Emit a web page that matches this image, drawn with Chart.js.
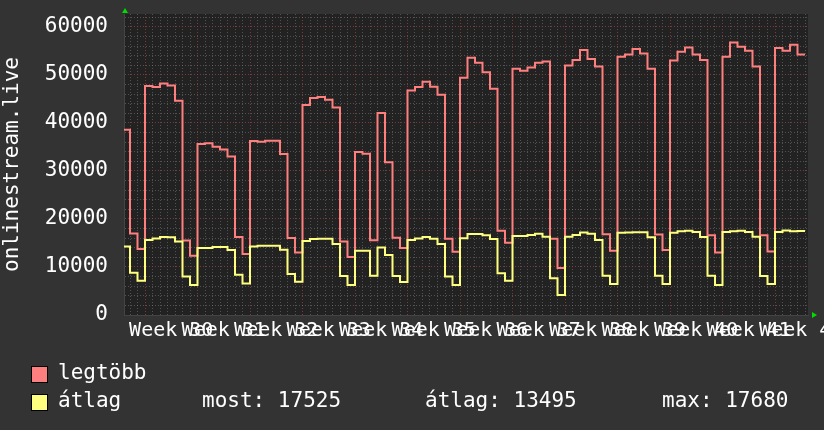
<!DOCTYPE html>
<html>
<head>
<meta charset="utf-8">
<script src="https://cdn.jsdelivr.net/npm/chart.js@4/dist/chart.umd.min.js"></script>
<style>
  body { margin: 0; background: #333333; }
  #wrap { position: relative; width: 824px; height: 430px; background: #333333; overflow: hidden; }
  #legend { position: absolute; left: 0; top: 0; width: 824px; height: 430px; pointer-events: none;
            font-family: "DejaVu Sans Mono", monospace; font-size: 21px; color: #ffffff; }
  #legend span { position: absolute; white-space: pre; line-height: 25px; }
  #legend .box { width: 15px; height: 15px; border: 1px solid #000; }
</style>
</head>
<body>
<div id="wrap">
  <canvas id="chart" width="824" height="430"></canvas>
  <div id="legend"></div>
</div>
<script>
// week labels on the x axis (each week = 7 days, day 0 = start of week 30)
const weekNumbers = [30, 31, 32, 33, 34, 35, 36, 37, 38, 39, 40, 41, 42];
const firstDay = -3;

// daily values, starting at firstDay
const maxValues = [
  38600, 17000, 13750,
  47700, 47500, 48200, 47800, 44650, 15500, 12350,
  35600, 35800, 35050, 34450, 33000, 16250, 12700,
  36250, 36100, 36300, 36300, 33550, 16050, 13000,
  43750, 45200, 45400, 44850, 43200, 15300, 12100,
  33950, 33600, 15550, 42100, 31800, 16100, 13950,
  46750, 47500, 48600, 47550, 45900, 15900, 13200,
  49400, 53600, 52550, 50550, 47150, 17550, 15050,
  51300, 50900, 51550, 52550, 52800, 15900, 9800,
  51950, 53100, 55200, 53350, 51750, 16800, 13400,
  53800, 54250, 55400, 54450, 51300, 16750, 13550,
  53000, 54850, 55700, 54250, 53100, 16600, 13000,
  53800, 56750, 55900, 55050, 51750, 16600, 13250,
  55600, 55050, 56300, 54250
];
const avgValues = [
  14250, 8800, 7150,
  15600, 15950, 16250, 16200, 15300, 8000, 6250,
  13950, 13950, 14150, 14150, 13550, 8400, 6550,
  14250, 14400, 14400, 14400, 13600, 8550, 6950,
  15400, 15850, 15900, 15900, 14800, 8100, 6250,
  13400, 13400, 8200, 14050, 12500, 8100, 6900,
  15600, 15950, 16250, 15900, 14800, 8000, 6250,
  16000, 16850, 16850, 16600, 15850, 8700, 7150,
  16450, 16450, 16650, 16950, 16300, 7650, 4150,
  16300, 16650, 17200, 16950, 15600, 8200, 6450,
  17150, 17200, 17250, 17250, 16200, 8200, 6450,
  17150, 17450, 17550, 17300, 16250, 8200, 6250,
  17300, 17450, 17550, 17300, 16300, 8100, 6450,
  17300, 17600, 17450, 17500
];

const seriesNames = ['legtöbb', 'átlag'];
const seriesColors = ['#ff7f7f', '#ffff7f'];
const statLabels = ['most', 'átlag', 'max'];
const statValues = [17525, 13495, 17680];

const yTitle = 'onlinestream.live';

// step data: each value holds for one day, last one closed at the end of its day
function toSteps(values) {
  const pts = values.map((v, i) => ({ x: firstDay + i, y: v }));
  pts.push({ x: firstDay + values.length, y: values[values.length - 1] });
  return pts;
}

const minorGrid = 'rgba(130,130,130,0.5)';
const majorGrid = 'rgba(150,70,70,0.75)';

const bgPlugin = {
  id: 'plotbg',
  beforeDraw(chart) {
    const { ctx, chartArea: a } = chart;
    ctx.save();
    ctx.fillStyle = '#222222';
    ctx.fillRect(a.left, a.top, a.right - a.left, a.bottom - a.top);
    ctx.restore();
  },
  afterDraw(chart) {
    const { ctx, chartArea: a } = chart;
    ctx.save();
    ctx.fillStyle = '#00dd00';
    ctx.beginPath();
    ctx.moveTo(a.left + 1, a.top - 6);
    ctx.lineTo(a.left - 2, a.top - 1);
    ctx.lineTo(a.left + 4, a.top - 1);
    ctx.closePath();
    ctx.fill();
    ctx.beginPath();
    ctx.moveTo(a.right + 9, a.bottom);
    ctx.lineTo(a.right + 4, a.bottom - 3);
    ctx.lineTo(a.right + 4, a.bottom + 3);
    ctx.closePath();
    ctx.fill();
    ctx.restore();
  }
};

Chart.defaults.font.family = '"DejaVu Sans Mono", monospace';
Chart.defaults.color = '#ffffff';

new Chart(document.getElementById('chart'), {
  type: 'line',
  data: {
    datasets: [{
      label: seriesNames[0],
      data: toSteps(maxValues),
      borderColor: seriesColors[0],
      backgroundColor: seriesColors[0],
      borderWidth: 2,
      pointRadius: 0,
      stepped: 'before',
      order: 1
    }, {
      label: seriesNames[1],
      data: toSteps(avgValues),
      borderColor: seriesColors[1],
      backgroundColor: seriesColors[1],
      borderWidth: 2,
      pointRadius: 0,
      stepped: 'before',
      order: 0
    }]
  },
  options: {
    responsive: false,
    animation: false,
    devicePixelRatio: 1,
    layout: { padding: { top: 14, right: 16, bottom: 0, left: 0 } },
    plugins: {
      legend: { display: false },
      tooltip: { enabled: false }
    },
    scales: {
      x: {
        type: 'linear',
        min: -2.8,
        max: 88.4,
        afterBuildTicks(scale) {
          const ticks = [];
          for (let d = Math.ceil(scale.min); d <= Math.floor(scale.max); d++) ticks.push({ value: d });
          weekNumbers.forEach((w, i) => ticks.push({ value: i * 7 + 3.5 }));
          ticks.sort((a, b) => a.value - b.value);
          scale.ticks = ticks;
        },
        afterFit(scale) {
          scale.height = 115;
          scale.paddingLeft = 0;
          scale.paddingRight = 0;
        },
        ticks: {
          autoSkip: false,
          maxRotation: 0,
          minRotation: 0,
          padding: 4,
          font: { size: 20 },
          callback(v) {
            const i = (v - 3.5) / 7;
            return Number.isInteger(i) && weekNumbers[i] !== undefined ? 'Week ' + weekNumbers[i] : '';
          }
        },
        grid: {
          drawTicks: false,
          lineWidth: 1,
          color(ctx) {
            if (!ctx.tick) return 'transparent';
            const v = ctx.tick.value;
            if (!Number.isInteger(v)) return 'transparent';
            return v % 7 === 0 ? majorGrid : minorGrid;
          }
        },
        border: { display: true, color: '#444444', width: 1, dash: [1, 2] }
      },
      y: {
        min: 0,
        max: 62700,
        afterBuildTicks(scale) {
          const ticks = [];
          for (let v = 0; v <= scale.max; v += 2000) ticks.push({ value: v });
          scale.ticks = ticks;
        },
        afterFit(scale) {
          scale.width = 124;
          scale.paddingTop = 0;
          scale.paddingBottom = 0;
        },
        ticks: {
          autoSkip: false,
          padding: 16,
          font: { size: 21 },
          callback(v) { return v % 10000 === 0 ? String(v) : ''; }
        },
        grid: {
          drawTicks: false,
          lineWidth: 1,
          color(ctx) {
            if (!ctx.tick) return 'transparent';
            return ctx.tick.value % 10000 === 0 ? majorGrid : minorGrid;
          }
        },
        border: { display: true, color: '#444444', width: 1, dash: [1, 2] },
        title: {
          display: true,
          text: yTitle,
          color: '#ffffff',
          font: { size: 21 },
          padding: 0
        }
      }
    }
  },
  plugins: [bgPlugin]
});

// legend rows below the plot
const legend = document.getElementById('legend');
const rowTops = [360, 388];
seriesNames.forEach((name, i) => {
  const box = document.createElement('span');
  box.className = 'box';
  box.style.left = '31px';
  box.style.top = (rowTops[i] + 6) + 'px';
  box.style.background = seriesColors[i];
  legend.appendChild(box);
  const t = document.createElement('span');
  t.textContent = name;
  t.style.left = '58px';
  t.style.top = rowTops[i] + 'px';
  legend.appendChild(t);
});
const statLefts = [202, 425, 662];
statLabels.forEach((lab, i) => {
  const s = document.createElement('span');
  s.textContent = lab + ': ' + statValues[i];
  s.style.left = statLefts[i] + 'px';
  s.style.top = rowTops[1] + 'px';
  legend.appendChild(s);
});
</script>
</body>
</html>
